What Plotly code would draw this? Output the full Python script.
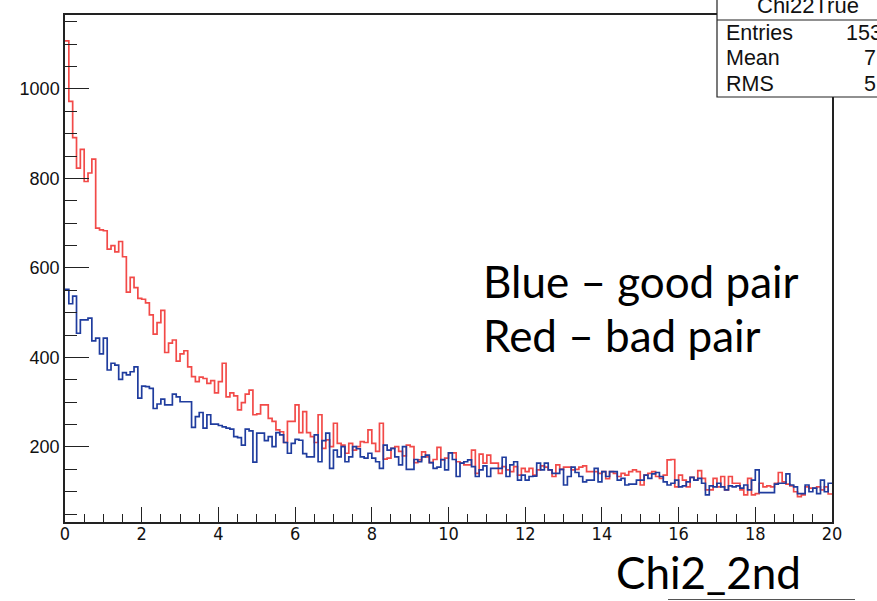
import plotly.graph_objects as go

# ---- data (bin contents, 200 bins of width 0.1 from 0 to 20) ----
bin_width = 0.1
n_bins = 200

red_bad_pair = [
    1107, 972, 891, 823, 865, 793, 812, 843, 689, 685,
    683, 642, 650, 636, 659, 625, 546, 579, 556, 532,
    530, 522, 495, 452, 478, 505, 411, 432, 439, 392,
    408, 415, 379, 357, 346, 356, 353, 342, 348, 321,
    346, 387, 312, 321, 314, 283, 299, 318, 327, 272,
    274, 294, 294, 264, 257, 238, 234, 210, 257, 257,
    294, 232, 279, 232, 223, 210, 272, 197, 216, 201,
    253, 208, 204, 186, 208, 193, 201, 212, 210, 238,
    208, 190, 253, 173, 175, 197, 201, 190, 180, 204,
    201, 165, 171, 189, 178, 165, 172, 199, 171, 175,
    187, 187, 167, 164, 160, 160, 193, 141, 184, 164,
    182, 164, 164, 141, 156, 149, 145, 156, 137, 152,
    145, 152, 137, 149, 158, 155, 149, 134, 160, 150,
    155, 155, 149, 150, 155, 158, 145, 145, 145, 141,
    145, 129, 145, 141, 134, 141, 137, 145, 149, 145,
    115, 137, 141, 145, 134, 130, 137, 171, 172, 111,
    137, 126, 111, 132, 126, 147, 130, 104, 104, 130,
    111, 134, 104, 134, 119, 119, 104, 93, 130, 93,
    96, 119, 111, 113, 111, 119, 143, 122, 117, 113,
    100, 89, 93, 111, 108, 108, 111, 104, 111, 95,
]

blue_good_pair = [
    552, 520, 537, 454, 484, 484, 488, 437, 443, 408,
    443, 372, 387, 383, 351, 366, 361, 368, 379, 309,
    336, 335, 331, 286, 296, 307, 294, 294, 318, 312,
    301, 301, 301, 244, 268, 277, 242, 272, 251, 251,
    248, 245, 242, 240, 223, 221, 204, 240, 236, 166,
    231, 231, 214, 223, 201, 232, 227, 210, 186, 208,
    217, 215, 185, 178, 178, 227, 167, 214, 231, 152,
    193, 178, 201, 167, 178, 201, 196, 178, 175, 186,
    175, 167, 152, 204, 193, 197, 178, 160, 201, 150,
    150, 172, 167, 178, 182, 165, 152, 155, 172, 149,
    187, 172, 134, 164, 167, 171, 156, 134, 149, 158,
    134, 152, 152, 152, 177, 134, 160, 167, 126, 137,
    126, 134, 135, 164, 149, 164, 149, 141, 141, 150,
    115, 134, 155, 143, 134, 122, 126, 126, 152, 122,
    145, 134, 145, 145, 126, 130, 115, 117, 117, 126,
    126, 137, 130, 140, 143, 134, 122, 115, 119, 126,
    111, 113, 122, 132, 126, 130, 119, 93, 113, 111,
    119, 111, 104, 113, 111, 113, 108, 115, 104, 126,
    149, 98, 98, 98, 98, 117, 119, 119, 140, 115,
    111, 96, 96, 115, 100, 108, 96, 126, 100, 119,
]

x_tick_vals = [0, 2, 4, 6, 8, 10, 12, 14, 16, 18, 20]
y_tick_vals = [200, 400, 600, 800, 1000]

stats_title = "Chi22True"
stats_rows = [("Entries", "15322"), ("Mean", "7.084"), ("RMS", "5.391")]
legend_lines = ["Blue \u2013 good pair", "Red \u2013 bad pair"]
x_title = "Chi2_2nd"

# ---- geometry helpers (pixel -> paper) ----
W, H = 877, 601
L, R, T, B = 65, 45, 15, 79
pw, ph = W - L - R, H - T - B


def px(x):
    return (x - L) / pw


def py(y):
    return (H - B - y) / ph


edges = [round(i * bin_width, 2) for i in range(n_bins + 1)]


def step(vals):
    return edges, list(vals) + [vals[-1]]


fig = go.Figure()
for vals, col in ((red_bad_pair, "#f24a48"), (blue_good_pair, "#1f3c9e")):
    xs, ys = step(vals)
    fig.add_trace(go.Scatter(x=xs, y=ys, mode="lines", line=dict(color=col, width=1.7, shape="hv"),
                             hoverinfo="skip", showlegend=False))

fig.update_layout(
    width=W, height=H,
    margin=dict(l=L, r=R, t=T, b=B, autoexpand=False),
    paper_bgcolor="white", plot_bgcolor="white",
    showlegend=False,
    xaxis=dict(range=[0, 20], tickvals=x_tick_vals, ticks="inside", ticklen=15, tickwidth=1,
               tickcolor="#222", showgrid=False, zeroline=False, showline=True, linecolor="#222",
               linewidth=1.5, mirror=True, ticklabelstandoff=-5,
               minor=dict(dtick=0.5, ticks="inside", ticklen=8, tickcolor="#222", showgrid=False),
               tickfont=dict(family="DejaVu Sans Condensed, Liberation Sans Narrow, Liberation Sans, sans-serif",
                             size=18, color="#111"),
               automargin=False),
    yaxis=dict(range=[32.4, 1165], tickvals=y_tick_vals, ticks="inside", ticklen=24, tickwidth=1,
               tickcolor="#222", showgrid=False, zeroline=False, showline=True, linecolor="#222",
               linewidth=1.5, mirror=True,
               minor=dict(dtick=50, tick0=0, ticks="inside", ticklen=12, tickcolor="#222", showgrid=False),
               tickfont=dict(family="Liberation Sans, Arial, sans-serif", size=18, color="#111"),
               automargin=False),
)

# stats box
fig.add_shape(type="rect", xref="paper", yref="paper", x0=px(717), x1=px(900), y0=py(97), y1=py(-20),
              line=dict(color="#222", width=1.2), fillcolor="white", layer="above")
fig.add_shape(type="line", xref="paper", yref="paper", x0=px(717), x1=px(900), y0=py(20), y1=py(20),
              line=dict(color="#222", width=1.2), layer="above")
fig.add_annotation(text=stats_title, xref="paper", yref="paper", x=px(755), y=py(19.5),
                   xanchor="left", yanchor="bottom", showarrow=False,
                   font=dict(family="Liberation Sans, Arial, sans-serif", size=22, color="#111"))
row_y = [33, 58, 84]
for (lab, val), yy in zip(stats_rows, row_y):
    fig.add_annotation(text=lab, xref="paper", yref="paper", x=px(724), y=py(yy),
                       xanchor="left", yanchor="middle", showarrow=False,
                       font=dict(family="Liberation Sans, Arial, sans-serif", size=21.5, color="#111"))
    fig.add_annotation(text=val, xref="paper", yref="paper", x=px(844 if lab == "Entries" else 862), y=py(yy),
                       xanchor="left", yanchor="middle", showarrow=False,
                       font=dict(family="Liberation Sans, Arial, sans-serif", size=21.5, color="#111"))

# legend-like text
for txt, yy in zip(legend_lines, [281, 335]):
    fig.add_annotation(text=txt, xref="paper", yref="paper", x=px(481), y=py(yy),
                       xanchor="left", yanchor="middle", showarrow=False,
                       font=dict(family="Lato, Carlito, sans-serif", size=44, color="black"))

# x title
fig.add_annotation(text=x_title, xref="paper", yref="paper", x=px(614), y=py(572),
                   xanchor="left", yanchor="middle", showarrow=False,
                   font=dict(family="Lato, Carlito, sans-serif", size=44, color="black"))
fig.add_shape(type="line", xref="paper", yref="paper", x0=px(668), x1=px(855), y0=py(599.5), y1=py(599.5),
              line=dict(color="#555", width=1), layer="above")

fig.write_html("out.html", config={"displayModeBar": False},
               post_script="document.body.style.margin='0';document.body.style.overflow='hidden';")
